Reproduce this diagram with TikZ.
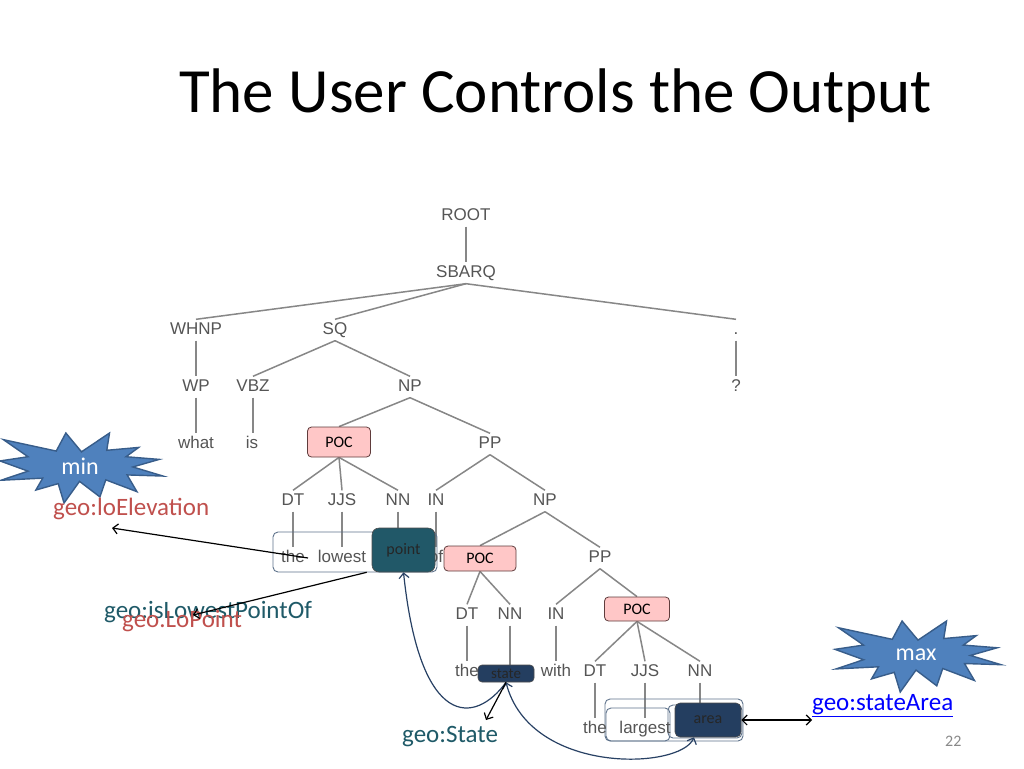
\documentclass[tikz,border=0pt]{standalone}
\usepackage{fontspec}
\setmainfont{Carlito}
\newfontfamily\treefont{Liberation Sans}
\usetikzlibrary{arrows.meta,positioning,backgrounds}

\definecolor{tagtext}{RGB}{85,85,85}
\definecolor{tagline}{RGB}{135,135,135}
\definecolor{pocfill}{RGB}{255,199,199}
\definecolor{pocline}{RGB}{95,60,60}
\definecolor{pointfill}{RGB}{33,88,104}
\definecolor{navyfill}{RGB}{36,62,96}
\definecolor{hintline}{RGB}{95,115,140}
\definecolor{geored}{RGB}{192,80,77}
\definecolor{geoteal}{RGB}{31,90,104}
\definecolor{starfill}{RGB}{79,129,189}
\definecolor{starline}{RGB}{56,93,138}
\definecolor{curvecol}{RGB}{40,65,100}
\definecolor{pagegray}{RGB}{137,137,137}

\tikzset{>={Straight Barb[length=5pt,width=10pt]}}
\tikzset{
  tag/.style={font=\treefont\fontsize{17}{17}\selectfont, text=tagtext,
    text height=12pt, text depth=3pt, inner sep=3pt},
  poc/.style={draw=pocline, fill=pocfill, rounded corners=4pt, line width=0.8pt,
    font=\fontsize{16}{16}\selectfont, text=black, inner sep=0pt},
  darkbox/.style={rounded corners=4pt, draw=black!70, line width=0.6pt,
    text=black!85, inner sep=0pt},
  treeline/.style={draw=tagline, line width=1.5pt},
  hint/.style={draw=hintline, rounded corners=5pt, line width=0.9pt},
  geo/.style={font=\fontsize{25}{25}\selectfont, inner sep=0pt, anchor=base west},
  boom/.style={fill=starfill, draw=starline, line width=1.4pt, line join=miter},
  startext/.style={font=\fontsize{24}{24}\selectfont, text=white, inner sep=0pt},
  link/.style={line width=1.2pt},
}

\begin{document}
\begin{tikzpicture}[x=1pt,y=-1pt]
\useasboundingbox (0,0) rectangle (1024,768);

% title
\node[anchor=base west, inner sep=0pt, font=\fontsize{63}{63}\selectfont] (title) at (179,112) {The User Controls the Output};

% min / max stars
\foreach \sx/\sy/\sw/\sh in {0/433/1.63/0.70, 835/621/1.66/0.71}
{
\begin{scope}[shift={(\sx,\sy)}, x=\sw pt, y=-\sh pt]
\draw[boom] (50,26.9) -- (67.2,0) -- (65.5,24.7) -- (85.1,20.6) -- (77.3,33.9)
  -- (97.7,37.7) -- (81.5,48.5) -- (100,61.5) -- (78,59.9) -- (84,83.8)
  -- (64.9,66.9) -- (61.3,91.3) -- (48.8,69.1) -- (39.3,100) -- (35.7,72.3)
  -- (22,81.5) -- (26.2,64.5) -- (0.6,67.5) -- (17.2,54.5) -- (0,39.9)
  -- (17.2,33.9) -- (2.1,9.5) -- (34.5,25.8) -- (40.4,0) -- cycle;
\end{scope}
}
\node[startext] (minlab) at (80,466) {min};
\node[startext] (maxlab) at (916,655) {max};

% parse tree
\node[tag] (root) at (466,216) {ROOT};
\node[tag] (sbarq) at (466,273) {SBARQ};
\node[tag] (whnp) at (196,330) {WHNP};
\node[tag] (sq) at (335,330) {SQ};
\node[tag] (dot) at (736,330) {.};
\node[tag] (wp) at (196,387) {WP};
\node[tag] (vbz) at (253,387) {VBZ};
\node[tag] (np) at (410,387) {NP};
\node[tag] (qmark) at (736,387) {?};
\node[tag] (what) at (196,444) {what};
\node[tag] (is) at (252,444) {is};
\node[poc, minimum width=63pt, minimum height=30pt] (pocA) at (339,442) {POC};
\node[tag] (pp) at (490,444) {PP};
\node[tag] (dtA) at (293,501) {DT};
\node[tag] (jjsA) at (342,501) {JJS};
\node[tag] (nnA) at (398,501) {NN};
\node[tag] (inA) at (436,501) {IN};
\node[tag] (npB) at (545,501) {NP};

\draw[hint] (273,532) rectangle (437,572);
\node[tag] (theA) at (293,558) {the};
\node[tag] (lowest) at (342,558) {lowest};
\node[tag] (of) at (436,558) {of};
\node[tag] (ppB) at (600,558) {PP};
\node[tag] (dtB) at (467,615) {DT};
\node[tag] (nnB) at (510,615) {NN};
\node[tag] (inB) at (556,615) {IN};
\node[poc, minimum width=65pt, minimum height=24pt] (pocC) at (637,609) {POC};
\node[tag] (theB) at (467,672) {the};
\node[tag] (with) at (556,672) {with};
\node[tag] (dtC) at (595,672) {DT};
\node[tag] (jjsC) at (645,672) {JJS};
\node[tag] (nnC) at (700,672) {NN};

\draw[hint] (605,699) rectangle (743,741);
\draw[hint] (606,708) rectangle (670,741);
\draw[hint] (668,705) rectangle (742,738);
\node[tag] (theC) at (595,729) {the};
\node[tag] (largest) at (645,729) {largest};

% highlighted words
\node[darkbox, fill=pointfill, rounded corners=7pt, minimum width=63pt, minimum height=44pt,
  font=\fontsize{16}{16}\selectfont] (point) at (403.5,550) {point};
\node[poc, minimum width=72pt, minimum height=25pt] (pocB) at (480,558.5) {POC};
\node[darkbox, fill=navyfill, minimum width=56pt, minimum height=17pt,
  font=\fontsize{15}{15}\selectfont] (state) at (506,673.5) {state};
\node[darkbox, fill=navyfill, rounded corners=5pt, minimum width=66pt, minimum height=34pt,
  font=\fontsize{16}{16}\selectfont] (area) at (708,720) {area};

% tree edges
\begin{scope}[on background layer]
\fill[white] (0,0) rectangle (1024,768);
\foreach \a/\b in {sbarq/whnp, sbarq/sq, sbarq/dot, sq/vbz, sq/np, np/pocA, np/pp,
  pocA/dtA, pocA/jjsA, pocA/nnA, pp/inA, pp/npB, npB/pocB, npB/ppB, pocB/dtB, pocB/nnB,
  ppB/inB, ppB/pocC, pocC/dtC, pocC/jjsC, pocC/nnC}
  \draw[treeline] (\a.south) -- (\b.north);
\foreach \a/\b in {root/sbarq, whnp/wp, wp/what, vbz/is, dot/qmark, dtA/theA, jjsA/lowest,
  inA/of, dtB/theB, inB/with, dtC/theC, jjsC/largest, nnA/point, nnB/state, nnC/area}
  \draw[treeline] (\a.south) -- (\a.south |- \b.north);
\end{scope}

% ontology labels
\node[geo, text=geored] (loelev) at (53,515) {geo:loElevation};
\node[geo, text=geoteal] (islowest) at (104,618) {geo:isLowestPointOf};
\node[geo, text=geored] (lopoint) at (122,627) {geo.LoPoint};
\node[geo, text=geoteal] (geostate) at (402,742) {geo:State};
\node[geo, text=blue] (statearea) at (812,710) {\underline{geo:stateArea}};
\node[anchor=base west, inner sep=0pt, font=\fontsize{16}{16}\selectfont, text=pagegray] (pagenum) at (945,746) {22};

\coordinate (loeltip) at (112,528);
\coordinate (lowtip) at (193,615);
\coordinate (statetip) at (486,720);

% links
\draw[link, ->] (theA.east) -- (loeltip);
\draw[link, ->] ([xshift=-5pt]point.south west) -- (lowtip);
\draw[link, ->, curvecol] (state.south) .. controls (475,725) and (420,730) .. (point.south);
\draw[link, <->, curvecol] ([xshift=-14pt]area.south) .. controls (680,770) and (530,775) .. (state.south);
\draw[link, ->] (state.south) -- (statetip);
\draw[link, <->] (area.east) -- (area.east -| statearea.west);
\end{tikzpicture}
\end{document}
